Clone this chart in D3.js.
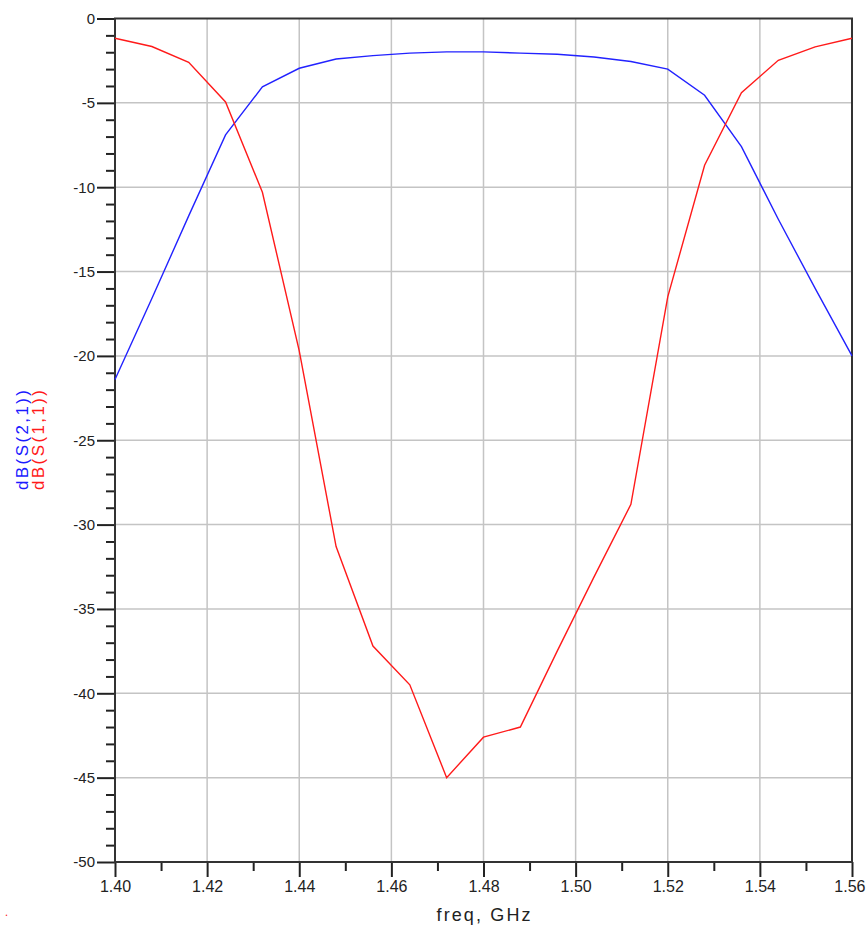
<!DOCTYPE html>
<html>
<head>
<meta charset="utf-8">
<script src="https://cdn.jsdelivr.net/npm/d3@7"></script>
<style>
  body { margin: 0; background: #fff; }
  svg { display: block; }
  .tick text { font-family: "Liberation Sans Narrow", "Liberation Sans", Arial, sans-serif; fill: #222; }
</style>
</head>
<body>
<script>
// S-parameter sweep, dB vs GHz

// frequency points (GHz)
const freq = [1.400, 1.408, 1.416, 1.424, 1.432, 1.440, 1.448, 1.456, 1.464, 1.472, 1.480,
              1.488, 1.496, 1.504, 1.512, 1.520, 1.528, 1.536, 1.544, 1.552, 1.560];
// dB(S(2,1))
const s21 = [-21.4, -16.6, -11.7, -6.9, -4.05, -2.95, -2.4, -2.2, -2.05, -1.98, -1.98,
             -2.05, -2.12, -2.28, -2.55, -3.0, -4.55, -7.6, -11.9, -16.0, -20.0];
// dB(S(1,1))
const s11 = [-1.17, -1.66, -2.6, -4.95, -10.3, -19.7, -31.3, -37.2, -39.5, -45.0, -42.6,
             -42.0, -37.5, -33.1, -28.8, -16.5, -8.7, -4.4, -2.48, -1.68, -1.17];

const xMajor = [1.40, 1.42, 1.44, 1.46, 1.48, 1.50, 1.52, 1.54, 1.56];
const yMajor = [0, -5, -10, -15, -20, -25, -30, -35, -40, -45, -50];

const W = 866, H = 935;
const m = { left: 115, right: 14, top: 18.5, bottom: 73 };

const svg = d3.select('body').append('svg')
  .attr('width', W)
  .attr('height', H);

const x = d3.scaleLinear().domain([1.40, 1.56]).range([m.left, W - m.right]);
const y = d3.scaleLinear().domain([-50, 0]).range([H - m.bottom, m.top]);

const plotW = x.range()[1] - x.range()[0];
const plotH = y.range()[0] - y.range()[1];

// grid
svg.append('g')
  .selectAll('line.vg')
  .data(xMajor.slice(1, -1))
  .join('line')
  .attr('x1', d => x(d)).attr('x2', d => x(d))
  .attr('y1', y(0)).attr('y2', y(-50))
  .attr('stroke', '#c4c4c4').attr('stroke-width', 1.5);

svg.append('g')
  .selectAll('line.hg')
  .data(yMajor.slice(1, -1))
  .join('line')
  .attr('x1', x(1.40)).attr('x2', x(1.56))
  .attr('y1', d => y(d)).attr('y2', d => y(d))
  .attr('stroke', '#c4c4c4').attr('stroke-width', 1.5);

// minor ticks
const xMinor = d3.axisBottom(x).tickValues(d3.range(1.41, 1.56, 0.02)).tickSize(9).tickFormat('');
const yMinor = d3.axisLeft(y).tickValues(d3.range(-49, 0, 1).filter(v => v % 5 !== 0)).tickSize(9).tickFormat('');

svg.append('g').attr('transform', `translate(0,${y(-50)})`).call(xMinor)
  .call(g => g.select('.domain').remove())
  .selectAll('line').attr('stroke', '#222').attr('stroke-width', 2);
svg.append('g').attr('transform', `translate(${x(1.40)},0)`).call(yMinor)
  .call(g => g.select('.domain').remove())
  .selectAll('line').attr('stroke', '#222').attr('stroke-width', 2);

// major axes
const xAxis = d3.axisBottom(x).tickValues(xMajor).tickSize(15).tickPadding(4).tickFormat(d3.format('.2f'));
const yAxis = d3.axisLeft(y).tickValues(yMajor).tickSize(18).tickPadding(2).tickFormat(d => d);

svg.append('g').attr('transform', `translate(0,${y(-50)})`).call(xAxis)
  .call(g => g.select('.domain').remove())
  .call(g => g.selectAll('line').attr('stroke', '#222').attr('stroke-width', 2))
  .call(g => g.selectAll('text').attr('font-size', 16))
  // last label sits right at the page edge, nudge it in
  .call(g => g.selectAll('text').filter(d => d === 1.56).attr('text-anchor', 'end').attr('dx', 13));

svg.append('g').attr('transform', `translate(${x(1.40)},0)`).call(yAxis)
  .call(g => g.select('.domain').remove())
  .call(g => g.selectAll('line').attr('stroke', '#222').attr('stroke-width', 2))
  .call(g => g.selectAll('text').attr('font-size', 15));

// frame
svg.append('rect')
  .attr('x', x(1.40)).attr('y', y(0))
  .attr('width', plotW).attr('height', plotH)
  .attr('fill', 'none').attr('stroke', '#333').attr('stroke-width', 2);

// traces
const line = vals => d3.line().x((d, i) => x(freq[i])).y(d => y(d))(vals);

svg.append('path').attr('d', line(s21))
  .attr('fill', 'none').attr('stroke', '#2222ff').attr('stroke-width', 1.4);
svg.append('path').attr('d', line(s11))
  .attr('fill', 'none').attr('stroke', '#ff1a1a').attr('stroke-width', 1.4);

// labels
svg.append('text')
  .attr('x', x(1.48)).attr('y', 921)
  .attr('text-anchor', 'middle')
  .attr('font-family', 'Liberation Sans, Arial, sans-serif')
  .attr('font-size', 18)
  .attr('textLength', 94).attr('lengthAdjust', 'spacing')
  .attr('fill', '#222')
  .text('freq, GHz');

const yt = svg.append('g').attr('transform', 'translate(0,440) rotate(-90)')
  .attr('font-family', 'Liberation Sans, Arial, sans-serif')
  .attr('font-size', 17)
  .attr('text-anchor', 'middle');
yt.append('text').attr('x', 0).attr('y', 28).attr('fill', '#1a1aff')
  .attr('textLength', 100).attr('lengthAdjust', 'spacing').text('dB(S(2,1))');
yt.append('text').attr('x', 0).attr('y', 44).attr('fill', '#ff1a1a')
  .attr('textLength', 100).attr('lengthAdjust', 'spacing').text('dB(S(1,1))');

svg.append('text').attr('x', 5).attr('y', 916)
  .attr('font-size', 12).attr('fill', '#ff1a1a').text('.');
</script>
</body>
</html>
